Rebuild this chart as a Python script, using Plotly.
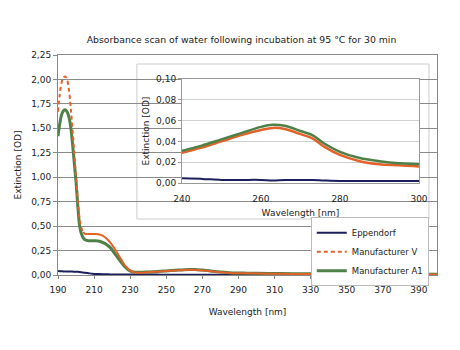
import plotly.graph_objects as go

wavelength = [190,191,192,193,194,195,196,197,198,199,200,201,202,203,204,205,
              207,209,211,213,215,217,219,221,223,225,227,229,231,233,
              236,240,245,250,255,260,263,266,270,273,276,280,
              285,290,295,300,310,320,340,360,380,400]
eppendorf = [0.040,0.039,0.038,0.037,0.037,0.036,0.036,0.035,0.035,0.034,0.034,0.033,0.031,0.028,0.025,0.022,
             0.018,0.014,0.011,0.009,0.008,0.007,0.006,0.006,0.005,0.005,0.005,0.005,0.004,0.004,
             0.004,0.0045,0.004,0.003,0.003,0.003,0.0025,0.003,0.003,0.003,0.0025,0.002,
             0.002,0.002,0.002,0.002,0.002,0.002,0.002,0.002,0.002,0.002]
manufacturer_v = [1.67,1.85,1.97,2.02,2.03,2.00,1.90,1.72,1.50,1.25,1.00,0.76,0.57,0.48,0.44,0.42,
                  0.42,0.42,0.42,0.415,0.40,0.37,0.33,0.28,0.22,0.16,0.10,0.06,0.035,0.025,
                  0.024,0.029,0.034,0.040,0.046,0.051,0.053,0.052,0.047,0.043,0.035,0.027,
                  0.021,0.018,0.017,0.016,0.013,0.011,0.009,0.008,0.007,0.006]
manufacturer_a1 = [1.42,1.55,1.64,1.68,1.69,1.67,1.62,1.52,1.35,1.15,0.95,0.70,0.50,0.42,0.38,0.36,
                   0.35,0.35,0.35,0.345,0.33,0.31,0.28,0.23,0.18,0.13,0.085,0.05,0.033,0.028,
                   0.027,0.031,0.036,0.042,0.048,0.054,0.056,0.055,0.050,0.046,0.038,0.030,
                   0.024,0.021,0.019,0.018,0.015,0.013,0.011,0.010,0.009,0.008]

main_xticks = list(range(190, 400, 20))
main_yticks = [0, 0.25, 0.5, 0.75, 1.0, 1.25, 1.5, 1.75, 2.0, 2.25]
inset_xticks = [240, 260, 280, 300]
inset_yticks = [0, 0.02, 0.04, 0.06, 0.08, 0.10]

NAVY = "#1B1F5E"
ORANGE = "#E2622A"
GREEN = "#4E8048"
FONT = "DejaVu Sans"

split = wavelength.index(204)

fig = go.Figure()
# main plot
fig.add_trace(go.Scatter(x=wavelength, y=eppendorf, mode="lines", name="Eppendorf",
                         line=dict(color=NAVY, width=2, shape="spline"), legendrank=1))
fig.add_trace(go.Scatter(x=wavelength, y=manufacturer_a1, mode="lines", name="Manufacturer A1",
                         line=dict(color=GREEN, width=3, shape="spline"), legendrank=3))
fig.add_trace(go.Scatter(x=wavelength[:split + 1], y=manufacturer_v[:split + 1], mode="lines",
                         name="Manufacturer V",
                         line=dict(color=ORANGE, width=2, dash="4px,3px", shape="spline"), legendrank=2))
fig.add_trace(go.Scatter(x=wavelength[split:], y=manufacturer_v[split:], mode="lines",
                         showlegend=False,
                         line=dict(color=ORANGE, width=2, shape="spline")))
# inset
fig.add_trace(go.Scatter(x=wavelength, y=eppendorf, mode="lines", showlegend=False,
                         xaxis="x2", yaxis="y2", line=dict(color=NAVY, width=2, shape="spline")))
fig.add_trace(go.Scatter(x=wavelength, y=manufacturer_v, mode="lines", showlegend=False,
                         xaxis="x2", yaxis="y2", line=dict(color=ORANGE, width=2.5, shape="spline")))
fig.add_trace(go.Scatter(x=wavelength, y=manufacturer_a1, mode="lines", showlegend=False,
                         xaxis="x2", yaxis="y2", line=dict(color=GREEN, width=2.5, shape="spline")))

fig.update_layout(
    width=460, height=350,
    margin=dict(l=58, r=23, t=55, b=75),
    paper_bgcolor="white", plot_bgcolor="white",
    separators=",.",
    font=dict(family=FONT, size=9, color="#222"),
    title=dict(text="Absorbance scan of water following incubation at 95 °C for 30 min",
               x=0.525, xref="container", xanchor="center",
               y=1 - 40 / 350, yref="container", yanchor="middle",
               font=dict(family=FONT, size=9.3, color="#222")),
    xaxis=dict(range=[190, 400], tickvals=main_xticks, showgrid=False,
               showline=True, linecolor="#888", linewidth=1, mirror=True,
               ticks="outside", ticklen=3, tickcolor="#888", ticklabelstandoff=3,
               title=dict(text="Wavelength [nm]", standoff=14, font=dict(size=9)),
               tickfont=dict(size=9), zeroline=False),
    yaxis=dict(range=[0, 2.25], tickvals=main_yticks, tickformat=".2f",
               showgrid=True, gridcolor="#8a8a8a", gridwidth=1,
               showline=True, linecolor="#888", linewidth=1, mirror=True,
               ticks="outside", ticklen=4, tickcolor="#888",
               title=dict(text="Extinction [OD]", standoff=8, font=dict(size=9)),
               tickfont=dict(size=9), zeroline=False),
    xaxis2=dict(domain=[0.327, 0.9525], anchor="y2", range=[240, 300], tickvals=inset_xticks,
                showgrid=False, showline=True, linecolor="#999", mirror=True,
                ticks="", ticklabelstandoff=7,
                title=dict(text="Wavelength [nm]", standoff=6, font=dict(size=9)),
                tickfont=dict(size=9), zeroline=False),
    yaxis2=dict(domain=[0.418, 0.891], anchor="x2", range=[0, 0.10], tickvals=inset_yticks,
                tickformat=".2f", showgrid=True, gridcolor="#d0d0d0",
                showline=True, linecolor="#999", mirror=True, ticks="outside", ticklen=3,
                tickcolor="#999",
                title=dict(text="Extinction [OD]", standoff=4, font=dict(size=9)),
                tickfont=dict(size=9), zeroline=False),
    legend=dict(x=0.667, y=0.262, xanchor="left", yanchor="top",
                bgcolor="white", bordercolor="#bbbbbb", borderwidth=1,
                font=dict(family=FONT, size=8.5), itemwidth=30,
                tracegroupgap=0),
    shapes=[dict(type="rect", xref="x2 domain", yref="y2 domain",
                 x0=-0.19, x1=1.042, y0=-0.346, y1=1.144,
                 fillcolor="white", line=dict(color="#cccccc", width=1), layer="below")],
)

fig.write_html("out.html")
